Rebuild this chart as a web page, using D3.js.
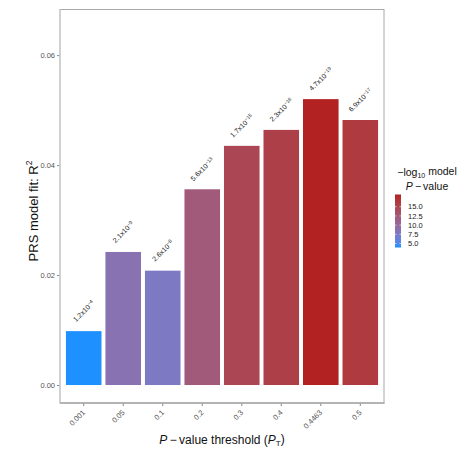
<!DOCTYPE html>
<html>
<head>
<meta charset="utf-8">
<script src="https://cdn.jsdelivr.net/npm/d3@7"></script>
<style>
  body { margin: 0; background: #fff; }
  text { font-family: "Liberation Sans", Arial, sans-serif; }
</style>
</head>
<body>
<script>
// values
var thresholds = ["0.001", "0.05", "0.1", "0.2", "0.3", "0.4", "0.4463", "0.5"];
var r2 = [0.0098, 0.0242, 0.0208, 0.0356, 0.0435, 0.0464, 0.0520, 0.0482];
var pMant = ["1.2", "2.1", "2.6", "5.6", "1.7", "2.3", "4.7", "6.9"];
var pExp = [-4, -9, -8, -13, -15, -16, -19, -17];
var yTicks = [0, 0.02, 0.04, 0.06];
var legendTicks = [5, 7.5, 10, 12.5, 15];

var w = 474, h = 454;
// panel box (note: "top" is taken by window.top)
var pL = 60, pR = 384, pT = 9.5, pB = 403;

var data = thresholds.map(function(t, i){
  var p = +pMant[i] * Math.pow(10, pExp[i]);
  return { t: t, r2: r2[i], mant: pMant[i], exp: pExp[i], logp: -Math.log10(p) };
});

var svg = d3.select("body").append("svg")
  .attr("width", w).attr("height", h);

var x = d3.scaleBand().domain(thresholds).range([pL, pR])
  .paddingInner(0.1).paddingOuter(0.15);
var y = d3.scaleLinear().domain([-0.00327, 0.0683]).range([pB, pT]);

var ext = d3.extent(data, function(d){ return d.logp; });
var col = d3.scaleLinear().domain(ext).range(["#1E90FF", "#B22222"])
  .interpolate(d3.interpolateLab);

// panel
svg.append("rect")
  .attr("x", pL).attr("y", pT)
  .attr("width", pR - pL).attr("height", pB - pT)
  .attr("fill", "#fff").attr("stroke", "#a8a8a8").attr("stroke-width", 1);

// bars
svg.selectAll("rect.bar")
  .data(data).enter().append("rect")
  .attr("class", "bar")
  .attr("x", function(d){ return x(d.t); })
  .attr("y", function(d){ return y(d.r2); })
  .attr("width", x.bandwidth())
  .attr("height", function(d){ return y(0) - y(d.r2); })
  .attr("fill", function(d){ return col(d.logp); });

// p-value labels above bars
var lab = svg.selectAll("text.plab")
  .data(data).enter().append("text")
  .attr("class", "plab")
  .attr("transform", function(d){
    return "translate(" + (x(d.t) + x.bandwidth() / 2) + "," + (y(d.r2) - 20) + ") rotate(-45)";
  })
  .attr("text-anchor", "middle")
  .attr("dy", "0.35em")
  .attr("font-size", 7)
  .attr("fill", "#1a1a1a");
lab.append("tspan").text(function(d){ return d.mant + "x10"; });
lab.append("tspan").attr("dy", "-0.45em").attr("font-size", 5)
  .text(function(d){ return "\u2212" + Math.abs(d.exp); });

// y axis
var gy = svg.append("g").attr("transform", "translate(" + pL + ",0)")
  .call(d3.axisLeft(y).tickValues(yTicks).tickFormat(d3.format(".2f")).tickSize(3).tickPadding(2));
gy.select(".domain").remove();
gy.selectAll(".tick line").attr("stroke", "#888");
gy.selectAll(".tick text").attr("fill", "#555").attr("font-size", 7.5)
  .style("font-family", "Liberation Sans, Arial, sans-serif");

// x axis
var gx = svg.append("g").attr("transform", "translate(0," + pB + ")")
  .call(d3.axisBottom(x).tickSize(3));
gx.select(".domain").remove();
gx.selectAll(".tick line").attr("stroke", "#888");
gx.selectAll(".tick text")
  .attr("fill", "#555").attr("font-size", 7.5)
  .style("font-family", "Liberation Sans, Arial, sans-serif")
  .attr("text-anchor", "end")
  .attr("y", 0).attr("dy", 0)
  .attr("transform", "translate(2,10) rotate(-45)");

// axis lines
svg.append("line").attr("x1", pL).attr("x2", pL).attr("y1", pT).attr("y2", pB)
  .attr("stroke", "#d0d0d0").attr("stroke-width", 1.5);
svg.append("line").attr("x1", pL).attr("x2", pR + 0.5).attr("y1", pB).attr("y2", pB)
  .attr("stroke", "#aaaaaa").attr("stroke-width", 1.5);

// axis titles
var xt = svg.append("text")
  .attr("x", (pL + pR) / 2).attr("y", 444)
  .attr("text-anchor", "middle").attr("font-size", 12).attr("fill", "#111");
xt.append("tspan").attr("font-style", "italic").text("P");
xt.append("tspan").text("\u2009\u2212\u2009value threshold (");
xt.append("tspan").attr("font-style", "italic").text("P");
xt.append("tspan").attr("font-size", 8).attr("dy", "0.3em").text("T");
xt.append("tspan").attr("dy", "-0.3em").text(")");

var yt = svg.append("text")
  .attr("transform", "translate(37.5,211) rotate(-90)")
  .attr("text-anchor", "middle").attr("font-size", 13).attr("fill", "#111");
yt.append("tspan").text("PRS model fit:  R");
yt.append("tspan").attr("font-size", 8.5).attr("dy", "-0.6em").text("2");

// legend
var lt1 = svg.append("text").attr("x", 427).attr("y", 176)
  .attr("text-anchor", "middle").attr("font-size", 10.5).attr("fill", "#111");
lt1.append("tspan").text("\u2212log");
lt1.append("tspan").attr("font-size", 7).attr("dy", "0.3em").text("10");
lt1.append("tspan").attr("dy", "-0.3em").text(" model");
var lt2 = svg.append("text").attr("x", 427).attr("y", 190)
  .attr("text-anchor", "middle").attr("font-size", 10.5).attr("fill", "#111");
lt2.append("tspan").attr("font-style", "italic").text("P");
lt2.append("tspan").text("\u2009\u2212\u2009value");

var lgTop = 194.5, lgBot = 247.5, lgX = 395, lgW = 6;
var ly = d3.scaleLinear().domain(ext).range([lgBot, lgTop]);
var defs = svg.append("defs");
var grad = defs.append("linearGradient").attr("id", "lg")
  .attr("x1", 0).attr("x2", 0).attr("y1", 1).attr("y2", 0);
d3.range(0, 1.0001, 0.1).forEach(function(s){
  grad.append("stop").attr("offset", s)
    .attr("stop-color", col(ext[0] + s * (ext[1] - ext[0])));
});
svg.append("rect").attr("x", lgX).attr("y", lgTop)
  .attr("width", lgW).attr("height", lgBot - lgTop).attr("fill", "url(#lg)");
svg.selectAll("line.lgt").data(legendTicks).enter().append("line")
  .attr("x1", lgX).attr("x2", lgX + 1.5)
  .attr("y1", function(d){ return ly(d); }).attr("y2", function(d){ return ly(d); })
  .attr("stroke", "#fff").attr("stroke-width", 0.6);
svg.selectAll("line.lgt2").data(legendTicks).enter().append("line")
  .attr("x1", lgX + lgW - 1.5).attr("x2", lgX + lgW)
  .attr("y1", function(d){ return ly(d); }).attr("y2", function(d){ return ly(d); })
  .attr("stroke", "#fff").attr("stroke-width", 0.6);
svg.selectAll("text.lgl").data(legendTicks).enter().append("text")
  .attr("x", 408).attr("y", function(d){ return ly(d); })
  .attr("dy", "0.35em").attr("font-size", 7.5).attr("fill", "#1a1a1a")
  .text(function(d){ return d3.format(".1f")(d); });
</script>
</body>
</html>
